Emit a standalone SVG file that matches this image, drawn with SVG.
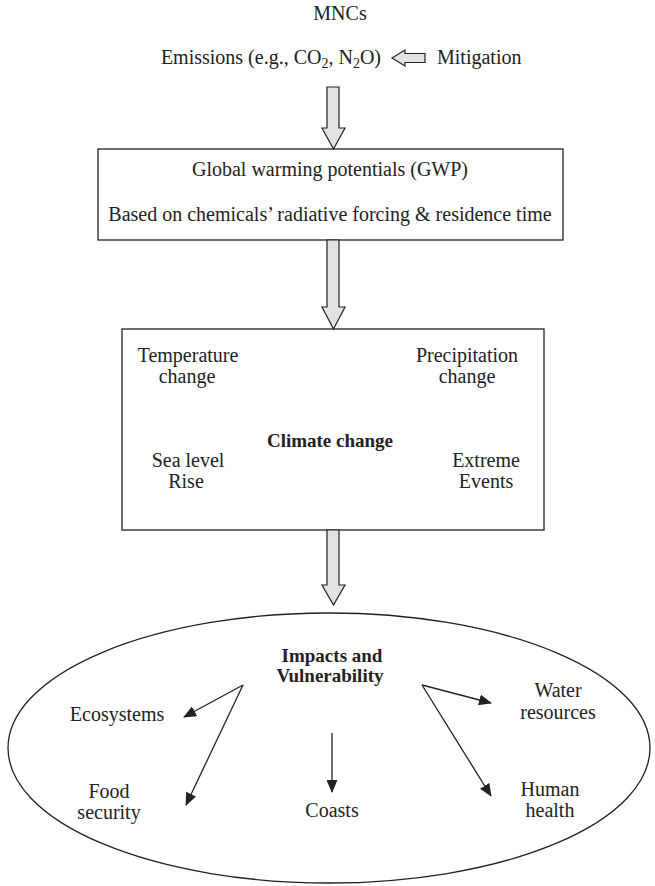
<svg xmlns="http://www.w3.org/2000/svg" width="655" height="886" viewBox="0 0 655 886">
<defs>
<style>
text{font-family:"Liberation Serif","Times New Roman",serif;font-size:20px;fill:#222;}
.c{text-anchor:middle;}
.b{font-weight:bold;font-size:19px;}
.sub{font-size:14px;}
.box{fill:#fff;stroke:#222;stroke-width:1.3;}
.blk{fill:#e2e2e2;stroke:#222;stroke-width:1.2;stroke-linejoin:miter;}
.ln{stroke:#222;stroke-width:1.3;fill:none;}
</style>
<marker id="ah" markerWidth="13" markerHeight="11" refX="12" refY="5.5" orient="auto" markerUnits="userSpaceOnUse">
<path d="M0,0 L13,5.5 L0,11 Z" fill="#222"/>
</marker>
</defs>
<rect width="655" height="886" fill="#fff"/>

<g id="mncs"><text class="c" x="340" y="20">MNCs</text></g>

<g id="emissions"><text x="381" y="64" text-anchor="end">Emissions (e.g., CO<tspan class="sub" dy="4">2</tspan><tspan dy="-4">, N</tspan><tspan class="sub" dy="4">2</tspan><tspan dy="-4">O)</tspan></text></g>

<g id="mitigation"><text x="437" y="64">Mitigation</text></g>

<g id="gwp">
<rect class="box" x="98" y="149" width="465" height="91"/>
<text class="c" x="330" y="176">Global warming potentials (GWP)</text>
<text class="c" x="330" y="221">Based on chemicals’ radiative forcing &amp; residence time</text>
</g>

<g id="climate">
<rect class="box" x="122" y="329" width="422" height="201"/>
<text class="c" x="188" y="362">Temperature</text>
<text class="c" x="187" y="383">change</text>
<text class="c" x="467" y="362">Precipitation</text>
<text class="c" x="467" y="383">change</text>
<text class="c b" x="330" y="447">Climate change</text>
<text class="c" x="188" y="467">Sea level</text>
<text class="c" x="186" y="488">Rise</text>
<text class="c" x="486" y="467">Extreme</text>
<text class="c" x="486" y="488">Events</text>
</g>

<g id="impacts">
<ellipse class="box" cx="329" cy="748" rx="321" ry="135"/>
<text class="c b" x="332" y="662">Impacts and</text>
<text class="c b" x="330" y="682">Vulnerability</text>
<text class="c" x="117" y="721">Ecosystems</text>
<text class="c" x="558" y="697">Water</text>
<text class="c" x="558" y="719">resources</text>
<text class="c" x="109" y="798">Food</text>
<text class="c" x="109" y="819">security</text>
<text class="c" x="332" y="817">Coasts</text>
<text class="c" x="550" y="796">Human</text>
<text class="c" x="550" y="817">health</text>
</g>

<g id="connectors">
<polygon class="blk" points="425,53.5 405,53.5 405,50 392,58 405,66 405,62.5 425,62.5"/>
<polygon class="blk" points="327,87 339,87 339,128 345,128 333.5,149 322,128 327,128"/>
<polygon class="blk" points="327,240 339,240 339,307 345,307 333.5,329 322,307 327,307"/>
<polygon class="blk" points="327,530 339,530 339,585 345,585 333.5,605 322,585 327,585"/>
<path class="ln" d="M243,685 L184,717" marker-end="url(#ah)"/>
<path class="ln" d="M243,685 L186,805" marker-end="url(#ah)"/>
<path class="ln" d="M332,733 L332,792" marker-end="url(#ah)"/>
<path class="ln" d="M422,685 L491,703" marker-end="url(#ah)"/>
<path class="ln" d="M422,685 L491,796" marker-end="url(#ah)"/>
</g>
</svg>
